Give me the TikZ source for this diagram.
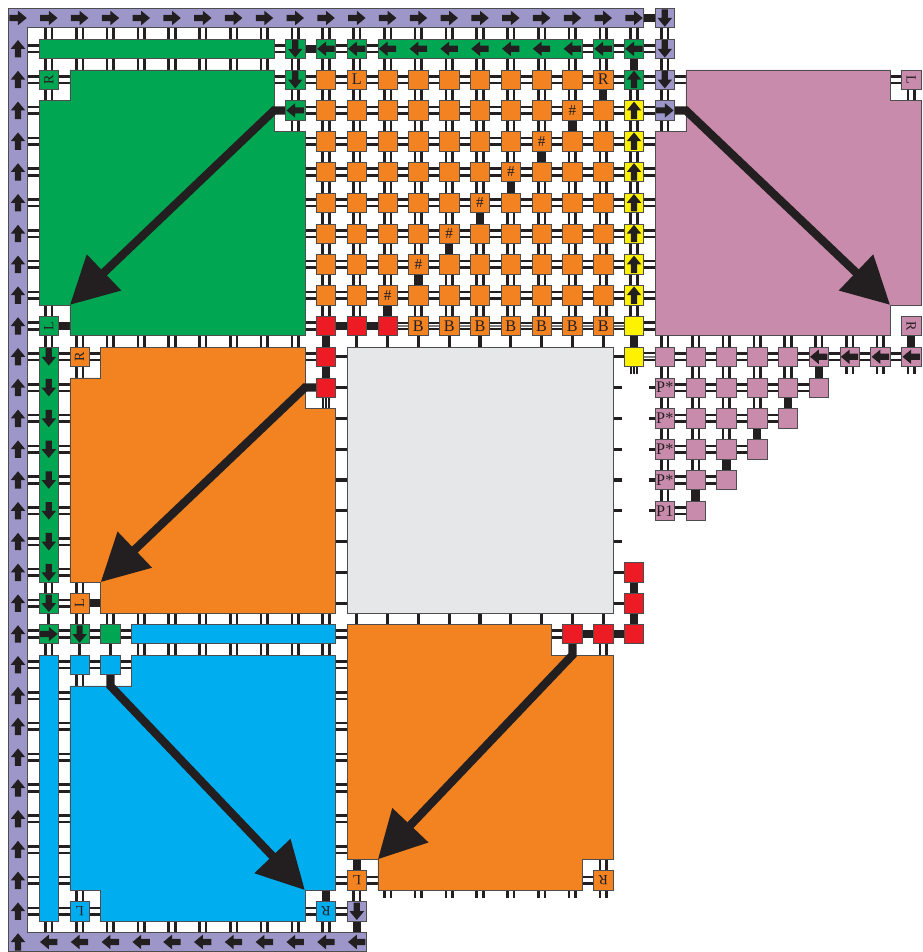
\documentclass[tikz,border=0pt]{standalone}
\usepackage{fontspec}
\setmainfont{Liberation Serif}
\usetikzlibrary{arrows.meta}
\definecolor{cpur}{RGB}{157,151,201}
\definecolor{cgrn}{RGB}{0,166,81}
\definecolor{corg}{RGB}{243,130,33}
\definecolor{cpnk}{RGB}{201,139,172}
\definecolor{cyel}{RGB}{255,242,0}
\definecolor{cred}{RGB}{237,28,36}
\definecolor{cblu}{RGB}{0,174,239}
\definecolor{cgry}{RGB}{230,231,232}
\definecolor{cblk}{RGB}{35,31,32}
\definecolor{cedge}{RGB}{77,77,79}
\tikzset{
 lk/.style={line width=2.4pt,draw=cblk},
 lkT/.style={line width=7.6pt,draw=cblk},
 lkS/.style={line width=3pt,draw=cblk},
 bx/.style={draw=cedge,line width=0.5pt,minimum size=0.63cm,inner sep=0pt,text=cblk,font=\fontsize{15}{15}\selectfont},
 rbx/.style={bx,font=\fontsize{13}{13}\selectfont},
 lbl/.style={inner sep=0pt,text=cblk,font=\fontsize{15}{15}\selectfont},
 blk/.style={draw=cedge,line width=0.5pt},
 bigarr/.style={line width=7.6pt,draw=cblk,line join=miter,-{Triangle[length=1.53cm,width=1.55cm]}},
 pics/farr/.style={code={\fill[cblk] (-0.28,-0.1) -- (0.0,-0.1) -- (0.0,-0.235) -- (0.285,0) -- (0.0,0.235) -- (0.0,0.1) -- (-0.28,0.1) -- cycle;}}
}
\newcommand\hD[2]{\draw[lk] ([yshift=1.05mm]#1) -- ([yshift=1.05mm]#2) ([yshift=-1.05mm]#1) -- ([yshift=-1.05mm]#2);}
\newcommand\vD[2]{\draw[lk] ([xshift=1.05mm]#1) -- ([xshift=1.05mm]#2) ([xshift=-1.05mm]#1) -- ([xshift=-1.05mm]#2);}
\newcommand\lT[2]{\draw[lkT] (#1) -- (#2);}
\newcommand\lS[2]{\draw[lkS] (#1) -- (#2);}
\newcommand\hTr[2]{\draw[lk,line width=2pt] ([yshift=1.1mm]#1) -- ([yshift=1.1mm]#2) ([yshift=-1.1mm]#1) -- ([yshift=-1.1mm]#2); \draw[line width=1.6pt,gray] (#1) -- (#2);}
\newcommand\vTr[2]{\draw[line width=1.7pt,cblk] ([xshift=1mm]#1) -- ([xshift=1mm]#2) (#1) -- (#2) ([xshift=-1mm]#1) -- ([xshift=-1mm]#2);}
\newcommand\abox[3]{\node[bx,fill=#1] (b#2) at (c#2) {}; \pic[rotate=#3] at (c#2) {farr};}
\def\e{0.315}
\begin{document}
\begin{tikzpicture}[x=1cm,y=1cm]
\useasboundingbox (-0.5844,0.5844) rectangle (29.3506,-30.3247);
\foreach \i in {0,...,29}{\foreach \j in {0,...,30}{\coordinate (c\i-\j) at (\i,-\j);}}
% ---------------- links: top region
\foreach \i in {1,...,21}{\foreach \j [count=\jj from 1] in {0,...,9}{
  \pgfmathtruncatemacro\kcol{21-\j}
  \ifnum\i=\kcol \ifnum\j>0 \lT{c\i-\j}{c\i-\jj}\else\vD{c\i-\j}{c\i-\jj}\fi\else\vD{c\i-\j}{c\i-\jj}\fi}}
\lT{c20-0}{c21-0}
\foreach \i/\ii in {0/1,8/9,10/11,11/12,18/19,19/20,20/21}{\hD{c\i-1}{c\ii-1}}
\lT{c9-1}{c10-1}
\foreach \j in {2,...,9}{\foreach \i [count=\ii from 1] in {0,...,20}{
  \ifnum\j=3 \ifnum\i=8 \else\hD{c\i-\j}{c\ii-\j}\fi\else\hD{c\i-\j}{c\ii-\j}\fi}}
\hD{c21-2}{c22-2} \hD{c28-2}{c29-2} \vD{c29-2}{c29-3}
\hD{c0-10}{c1-10} \lT{c1-10}{c2-10} \hD{c9-10}{c10-10} \lT{c10-10}{c11-10} \lT{c11-10}{c12-10}
\foreach \i [count=\ii from 13] in {12,...,19}{\hTr{c\i-10}{c\ii-10}}
\hD{c20-10}{c21-10}
\vD{c1-10}{c1-11}
\foreach \i in {2,...,9}{\vD{c\i-10}{c\i-11}}
\lT{c10-10}{c10-11}
\foreach \i in {11,...,19}{\lS{c\i-10}{c\i-11}}
\lT{c20-10}{c20-11}
\foreach \i in {21,...,28}{\vD{c\i-10}{c\i-11}}
\lT{c29-10}{c29-11}
% pink row 11 and triangle
\hTr{c20-11}{c21-11}
\foreach \i [count=\ii from 22] in {21,...,28}{\hD{c\i-11}{c\ii-11}}
\foreach \rw [count=\rr from 12] in {11,...,15}{\pgfmathtruncatemacro\cmax{37-\rw}
  \foreach \cl in {21,...,\cmax}{\ifnum\cl=\cmax \lT{c\cl-\rw}{c\cl-\rr}\else\vD{c\cl-\rw}{c\cl-\rr}\fi}}
\foreach \rw in {12,...,16}{\pgfmathtruncatemacro\cmax{37-\rw}
  \foreach \cl [count=\cc from 22] in {21,...,\cmax}{\hD{c\cl-\rw}{c\cc-\rw}}}
\foreach \i in {27,28,29}{\coordinate (sp\i) at (\i,-11.57); \vD{c\i-11}{sp\i}}
\foreach \rw in {12,...,16}{\coordinate (sq\rw) at (20.5,-\rw); \lS{c21-\rw}{sq\rw}}
\foreach \rw in {12,...,17}{\coordinate (sg\rw) at (19.62,-\rw); \lS{c19-\rw}{sg\rw}}
\lS{c19-11}{c20-11} \lS{c19-18}{c20-18} \lS{c19-19}{c20-19}
\coordinate (sy) at (20,-11.56); \vTr{c20-11}{sy}
% middle
\foreach \j in {11,...,19}{\hD{c0-\j}{c1-\j} \hD{c1-\j}{c2-\j}}
\hD{c2-11}{c3-11} \hD{c9-11}{c10-11} \lS{c10-11}{c11-11} \lS{c10-12}{c11-12}
\foreach \j in {13,...,19}{\lS{c10-\j}{c11-\j}}
\lT{c2-19}{c3-19}
\vD{c1-18}{c1-19} \lS{c1-19}{c1-20}
\vD{c2-11}{c2-12} \vD{c2-18}{c2-19} \vD{c2-19}{c2-20}
\foreach \i in {3,...,10}{\vD{c\i-19}{c\i-20}}
\lT{c10-11}{c10-12} \vTr{c10-12}{c10-13}
\foreach \i in {11,...,19}{\lS{c\i-19}{c\i-20}}
\lT{c20-18}{c20-19} \lT{c20-19}{c20-20}
% bottom
\foreach \j in {20,...,29}{\hD{c0-\j}{c1-\j}}
\hD{c1-20}{c2-20} \hD{c2-20}{c3-20} \hD{c3-20}{c4-20} \hD{c10-20}{c11-20} \hD{c17-20}{c18-20}
\lT{c18-20}{c19-20} \lT{c19-20}{c20-20}
\hD{c1-21}{c2-21} \hD{c2-21}{c3-21} \hD{c3-21}{c4-21}
\foreach \j in {21,...,28}{\hD{c10-\j}{c11-\j}}
\foreach \j in {22,...,28}{\hD{c1-\j}{c2-\j}}
\hD{c11-28}{c12-28} \hD{c18-28}{c19-28}
\hD{c1-29}{c2-29} \hD{c2-29}{c3-29} \hD{c9-29}{c10-29} \hD{c10-29}{c11-29}
\vD{c1-20}{c1-21} \lS{c2-20}{c2-21} \lS{c3-20}{c3-21}
\foreach \i in {4,...,10}{\vD{c\i-20}{c\i-21}}
\vD{c19-20}{c19-21} \vD{c2-21}{c2-22} \vD{c2-28}{c2-29}
\lT{c10-28}{c10-29} \lT{c11-27}{c11-28} \vD{c11-28}{c11-29} \vD{c19-27}{c19-28}
\foreach \i in {12,...,19}{\coordinate (so\i) at (\i,-28.57); \vD{c\i-28}{so\i}}
\foreach \i in {1,...,10}{\vD{c\i-29}{c\i-30}}
\lT{c11-29}{c11-30}
% ---------------- bars and blocks
\draw[blk,fill=cpur] (-\e,\e) -- (20+\e,\e) -- (20+\e,-\e) -- (\e,-\e) -- (\e,-30+\e) -- (11+\e,-30+\e) -- (11+\e,-30-\e) -- (-\e,-30-\e) -- cycle;
\draw[blk,fill=cgrn] (1-\e,-1+\e) rectangle (8+\e,-1-\e);
\draw[blk,fill=cgrn] (12-\e,-1+\e) rectangle (18+\e,-1-\e);
\draw[blk,fill=cgrn] (1-\e,-11+\e) rectangle (1+\e,-18-\e);
\draw[blk,fill=cblu] (4-\e,-20+\e) rectangle (10+\e,-20-\e);
\draw[blk,fill=cblu] (1-\e,-21+\e) rectangle (1+\e,-29-\e);
\draw[blk,fill=cgrn] (2-\e,-2+\e) -- (8+\e,-2+\e) -- (8+\e,-4+\e) -- (9+\e,-4+\e) -- (9+\e,-10-\e) -- (2-\e,-10-\e) -- (2-\e,-9-\e) -- (1-\e,-9-\e) -- (1-\e,-3+\e) -- (2-\e,-3+\e) -- cycle;
\draw[blk,fill=cpnk] (22-\e,-2+\e) -- (28+\e,-2+\e) -- (28+\e,-3+\e) -- (29+\e,-3+\e) -- (29+\e,-9-\e) -- (28+\e,-9-\e) -- (28+\e,-10-\e) -- (21-\e,-10-\e) -- (21-\e,-4+\e) -- (22-\e,-4+\e) -- cycle;
\draw[blk,fill=corg] (3-\e,-11+\e) -- (9+\e,-11+\e) -- (9+\e,-13+\e) -- (10+\e,-13+\e) -- (10+\e,-19-\e) -- (3-\e,-19-\e) -- (3-\e,-18-\e) -- (2-\e,-18-\e) -- (2-\e,-12+\e) -- (3-\e,-12+\e) -- cycle;
\draw[blk,fill=cgry] (11-\e,-11+\e) rectangle (19+\e,-19-\e);
\draw[blk,fill=corg] (11-\e,-20+\e) -- (17+\e,-20+\e) -- (17+\e,-21+\e) -- (19+\e,-21+\e) -- (19+\e,-27-\e) -- (18+\e,-27-\e) -- (18+\e,-28-\e) -- (12-\e,-28-\e) -- (12-\e,-27-\e) -- (11-\e,-27-\e) -- cycle;
\draw[blk,fill=cblu] (4-\e,-21+\e) -- (10+\e,-21+\e) -- (10+\e,-28-\e) -- (9+\e,-28-\e) -- (9+\e,-29-\e) -- (3-\e,-29-\e) -- (3-\e,-28-\e) -- (2-\e,-28-\e) -- (2-\e,-22+\e) -- (4-\e,-22+\e) -- cycle;
% ---------------- big arrows
\draw[bigarr] (c9-3) -- (8+\e,-3) -- (2-\e,-9-\e);
\draw[bigarr] (c21-3) -- (22-\e,-3) -- (28+\e,-9-\e);
\draw[bigarr] (c10-12) -- (9+\e,-12) -- (3-\e,-18-\e);
\draw[bigarr] (c3-21) -- (3,-22+\e) -- (9+\e,-28-\e);
\draw[bigarr] (c18-20) -- (18,-21+\e) -- (12-\e,-27-\e);
% ---------------- bar arrows
\foreach \i in {0,...,20}{\pic at (c\i-0) {farr};}
\foreach \j in {1,...,30}{\pic[rotate=90] at (c0-\j) {farr};}
\foreach \i in {1,...,11}{\pic[rotate=180] at (c\i-30) {farr};}
\foreach \i in {12,...,18}{\pic[rotate=180] at (c\i-1) {farr};}
\foreach \j in {11,...,18}{\pic[rotate=-90] at (c1-\j) {farr};}
% ---------------- boxes
\abox{cpur}{21-0}{-90} \abox{cpur}{21-1}{-90} \abox{cpur}{21-2}{-90} \abox{cpur}{21-3}{0} \abox{cpur}{11-29}{-90}
\abox{cgrn}{9-1}{-90} \abox{cgrn}{10-1}{180} \abox{cgrn}{11-1}{180} \abox{cgrn}{19-1}{180} \abox{cgrn}{20-1}{180}
\abox{cgrn}{9-2}{-90} \abox{cgrn}{9-3}{180} \abox{cgrn}{20-2}{90}
\node[rbx,fill=cgrn,rotate=90] (b1-2) at (c1-2) {R};
\node[rbx,fill=cgrn,rotate=90] (b1-10) at (c1-10) {L};
\abox{cgrn}{1-19}{-90} \abox{cgrn}{1-20}{0} \abox{cgrn}{2-20}{-90}
\node[bx,fill=cgrn] (b3-20) at (c3-20) {};
\foreach \i in {10,...,19}{\foreach \j in {2,...,9}{\node[bx,fill=corg] (b\i-\j) at (c\i-\j) {};}}
\node[lbl] (tl) at (c11-2) {L};
\node[lbl] (tr) at (c19-2) {R};
\foreach \j in {3,...,9}{\pgfmathtruncatemacro\kcol{21-\j}\node[lbl,font=\fontsize{14}{14}\selectfont] (th\j) at (c\kcol-\j) {\#};}
\foreach \i in {10,11,12}{\node[bx,fill=cred] (b\i-10) at (c\i-10) {};}
\foreach \i in {13,...,19}{\node[bx,fill=corg] (b\i-10) at (c\i-10) {B};}
\foreach \j in {3,...,9}{\abox{cyel}{20-\j}{90}}
\node[bx,fill=cyel] (b20-10) at (c20-10) {};
\node[bx,fill=cyel] (b20-11) at (c20-11) {};
\foreach \p in {10-11,10-12,18-20,19-20,20-20,20-19,20-18}{\node[bx,fill=cred] (b\p) at (c\p) {};}
\node[rbx,fill=corg,rotate=90] (b2-11) at (c2-11) {R};
\node[rbx,fill=corg,rotate=90] (b2-19) at (c2-19) {L};
\node[rbx,fill=corg,rotate=180] (b11-28) at (c11-28) {L};
\node[rbx,fill=corg,rotate=180] (b19-28) at (c19-28) {R};
\node[bx,fill=cblu] (b2-21) at (c2-21) {};
\node[bx,fill=cblu] (b3-21) at (c3-21) {};
\node[rbx,fill=cblu,rotate=180] (b2-29) at (c2-29) {L};
\node[rbx,fill=cblu,rotate=180] (b10-29) at (c10-29) {R};
\node[rbx,fill=cpnk,rotate=-90] (b29-2) at (c29-2) {L};
\node[rbx,fill=cpnk,rotate=-90] (b29-10) at (c29-10) {R};
\foreach \i in {21,...,25}{\node[bx,fill=cpnk] (b\i-11) at (c\i-11) {};}
\foreach \i in {26,...,29}{\abox{cpnk}{\i-11}{180}}
\foreach \rw in {12,...,16}{\pgfmathtruncatemacro\cmax{38-\rw}
  \foreach \cl in {22,...,\cmax}{\node[bx,fill=cpnk] (b\cl-\rw) at (c\cl-\rw) {};}}
\foreach \rw in {12,...,15}{\node[bx,fill=cpnk,font=\fontsize{15}{15}\selectfont] (b21-\rw) at (c21-\rw) {P*};}
\node[bx,fill=cpnk,font=\fontsize{15}{15}\selectfont] (b21-16) at (c21-16) {P1};
\end{tikzpicture}
\end{document}
